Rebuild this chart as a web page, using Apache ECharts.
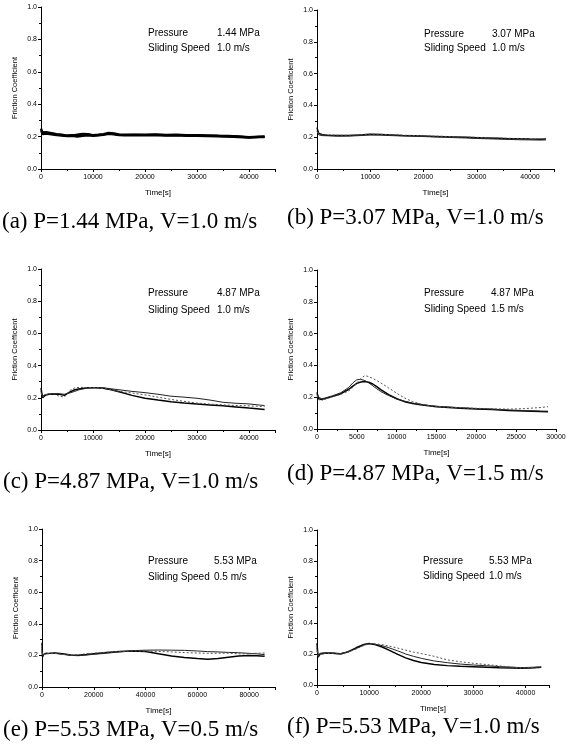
<!DOCTYPE html>
<html>
<head>
<meta charset="utf-8">
<script src="https://cdn.jsdelivr.net/npm/echarts@6/dist/echarts.min.js"></script>
<style>
html,body{margin:0;padding:0;background:#fff;}
#c{width:572px;height:751px;}
</style>
</head>
<body>
<div id="c"></div>
<script>
// ---------- tick labels ----------
var yTickLabels = ['0.0', '0.2', '0.4', '0.6', '0.8', '1.0'];
var xTicks43k = [0, 10000, 20000, 30000, 40000];
var xTicks30k = [0, 5000, 10000, 15000, 20000, 25000, 30000];
var xTicks86k = [0, 20000, 40000, 60000, 80000];

// ---------- captions / annotations ----------
var captions = ['(a) P=1.44 MPa, V=1.0 m/s', '(b) P=3.07 MPa, V=1.0 m/s',
                '(c) P=4.87 MPa, V=1.0 m/s', '(d) P=4.87 MPa, V=1.5 m/s',
                '(e) P=5.53 MPa, V=0.5 m/s', '(f) P=5.53 MPa, V=1.0 m/s'];
var pressures = ['1.44 MPa', '3.07 MPa', '4.87 MPa', '4.87 MPa', '5.53 MPa', '5.53 MPa'];
var speeds = ['1.0 m/s', '1.0 m/s', '1.0 m/s', '1.5 m/s', '0.5 m/s', '1.0 m/s'];

// ---------- panel (a) ----------
var timeA = [0, 300, 1000, 2000, 3000, 4000, 5000, 6000, 7000, 8000, 9000, 10000, 11000, 12000, 13000, 14000, 15000, 16000, 18000, 20000, 22000, 24000, 26000, 28000, 30000, 32000, 34000, 36000, 38000, 40000, 41000, 42000, 43000];
var a1 = [0.25, 0.225, 0.228, 0.222, 0.215, 0.212, 0.207, 0.209, 0.206, 0.212, 0.214, 0.21, 0.212, 0.216, 0.223, 0.22, 0.214, 0.212, 0.213, 0.212, 0.214, 0.211, 0.212, 0.21, 0.209, 0.208, 0.206, 0.205, 0.202, 0.197, 0.199, 0.2, 0.201];
var a2 = [0.24, 0.215, 0.218, 0.214, 0.209, 0.206, 0.203, 0.204, 0.2, 0.205, 0.208, 0.205, 0.207, 0.21, 0.216, 0.214, 0.209, 0.207, 0.208, 0.207, 0.209, 0.206, 0.207, 0.205, 0.204, 0.203, 0.201, 0.2, 0.197, 0.193, 0.195, 0.196, 0.197];
var a3 = [0.23, 0.22, 0.222, 0.218, 0.213, 0.209, 0.205, 0.206, 0.212, 0.217, 0.216, 0.207, 0.209, 0.213, 0.219, 0.217, 0.211, 0.21, 0.211, 0.21, 0.211, 0.209, 0.21, 0.208, 0.207, 0.205, 0.204, 0.202, 0.2, 0.195, 0.197, 0.198, 0.199];

// ---------- panel (b) ----------
var timeB = [0, 300, 1000, 2000, 4000, 6000, 8000, 10000, 12000, 14000, 16000, 18000, 20000, 22000, 24000, 26000, 28000, 30000, 32000, 34000, 36000, 38000, 40000, 42000, 43000];
var b1 = [0.26, 0.225, 0.215, 0.213, 0.21, 0.21, 0.214, 0.218, 0.217, 0.214, 0.211, 0.209, 0.207, 0.205, 0.203, 0.201, 0.199, 0.197, 0.195, 0.193, 0.191, 0.19, 0.188, 0.187, 0.188];
var b2 = [0.24, 0.215, 0.21, 0.209, 0.206, 0.207, 0.21, 0.214, 0.213, 0.21, 0.208, 0.206, 0.204, 0.202, 0.2, 0.197, 0.195, 0.192, 0.19, 0.188, 0.186, 0.184, 0.183, 0.182, 0.183];
var b3 = [0.23, 0.22, 0.218, 0.216, 0.212, 0.212, 0.216, 0.219, 0.218, 0.216, 0.213, 0.211, 0.209, 0.207, 0.205, 0.203, 0.201, 0.199, 0.197, 0.195, 0.193, 0.192, 0.19, 0.19, 0.19];

// ---------- panel (c) ----------
var timeC = [0, 300, 800, 1500, 2500, 3500, 4500, 5500, 6500, 7500, 9000, 10500, 12000, 13500, 15000, 17500, 20000, 22500, 25000, 27500, 30000, 32500, 35000, 37500, 40000, 42000, 43000];
var c1 = [0.26, 0.2, 0.215, 0.222, 0.224, 0.222, 0.215, 0.235, 0.25, 0.256, 0.262, 0.262, 0.259, 0.25, 0.237, 0.215, 0.197, 0.186, 0.176, 0.168, 0.162, 0.156, 0.15, 0.143, 0.136, 0.131, 0.128];
var c2 = [0.24, 0.21, 0.22, 0.224, 0.226, 0.225, 0.222, 0.23, 0.24, 0.252, 0.26, 0.263, 0.262, 0.256, 0.25, 0.24, 0.232, 0.222, 0.21, 0.204, 0.197, 0.186, 0.172, 0.166, 0.162, 0.155, 0.152];
var c3 = [0.23, 0.205, 0.218, 0.223, 0.225, 0.21, 0.205, 0.245, 0.262, 0.265, 0.264, 0.262, 0.258, 0.25, 0.24, 0.23, 0.218, 0.204, 0.19, 0.178, 0.167, 0.161, 0.156, 0.152, 0.15, 0.147, 0.145];

// ---------- panel (d) ----------
var timeD = [0, 200, 600, 1000, 2000, 3000, 4000, 4500, 5000, 5500, 6000, 6500, 7000, 7500, 8000, 9000, 10000, 11000, 12000, 13000, 14000, 15000, 16000, 18000, 20000, 22000, 24000, 26000, 28000, 29000];
var d1 = [0.23, 0.19, 0.185, 0.19, 0.205, 0.222, 0.25, 0.27, 0.287, 0.296, 0.298, 0.294, 0.283, 0.266, 0.248, 0.216, 0.19, 0.172, 0.16, 0.152, 0.146, 0.14, 0.137, 0.131, 0.126, 0.122, 0.117, 0.113, 0.11, 0.109];
var d2 = [0.22, 0.2, 0.19, 0.195, 0.21, 0.228, 0.262, 0.29, 0.31, 0.312, 0.305, 0.29, 0.272, 0.253, 0.236, 0.21, 0.19, 0.175, 0.163, 0.155, 0.148, 0.143, 0.14, 0.134, 0.129, 0.125, 0.12, 0.116, 0.113, 0.112];
var d3 = [0.21, 0.185, 0.18, 0.19, 0.203, 0.218, 0.24, 0.262, 0.29, 0.318, 0.335, 0.33, 0.318, 0.305, 0.29, 0.258, 0.225, 0.195, 0.172, 0.158, 0.148, 0.143, 0.139, 0.134, 0.13, 0.127, 0.125, 0.128, 0.135, 0.14];

// ---------- panel (e) ----------
var timeE = [0, 200, 600, 1500, 3000, 5000, 8000, 11000, 14000, 17000, 20000, 25000, 30000, 35000, 40000, 45000, 50000, 55000, 60000, 64000, 68000, 72000, 76000, 80000, 83000, 86000];
var e1 = [0.28, 0.19, 0.205, 0.212, 0.213, 0.215, 0.21, 0.203, 0.201, 0.205, 0.21, 0.218, 0.224, 0.228, 0.225, 0.21, 0.196, 0.186, 0.18, 0.176, 0.18, 0.188, 0.196, 0.2, 0.198, 0.195];
var e2 = [0.24, 0.2, 0.208, 0.214, 0.212, 0.213, 0.207, 0.2, 0.198, 0.202, 0.207, 0.214, 0.222, 0.23, 0.233, 0.234, 0.233, 0.232, 0.228, 0.224, 0.222, 0.219, 0.217, 0.213, 0.21, 0.205];
var e3 = [0.22, 0.2, 0.205, 0.21, 0.211, 0.212, 0.206, 0.202, 0.205, 0.21, 0.214, 0.22, 0.225, 0.228, 0.227, 0.225, 0.222, 0.218, 0.215, 0.213, 0.214, 0.214, 0.21, 0.21, 0.214, 0.215];

// ---------- panel (f) ----------
var timeF = [0, 200, 600, 1500, 3000, 4500, 6000, 7500, 9000, 10000, 11000, 12500, 14000, 15500, 17000, 18500, 20000, 22500, 25000, 27500, 30000, 32500, 35000, 37500, 39000, 41000, 43000];
var f1 = [0.27, 0.18, 0.2, 0.205, 0.205, 0.2, 0.215, 0.24, 0.262, 0.268, 0.262, 0.245, 0.222, 0.198, 0.175, 0.158, 0.145, 0.133, 0.125, 0.121, 0.118, 0.115, 0.112, 0.11, 0.108, 0.11, 0.114];
var f2 = [0.24, 0.19, 0.205, 0.208, 0.207, 0.203, 0.213, 0.235, 0.258, 0.266, 0.264, 0.254, 0.238, 0.22, 0.2, 0.185, 0.172, 0.155, 0.144, 0.135, 0.129, 0.124, 0.119, 0.115, 0.112, 0.114, 0.116];
var f3 = [0.22, 0.185, 0.198, 0.203, 0.204, 0.2, 0.212, 0.232, 0.255, 0.265, 0.266, 0.26, 0.25, 0.238, 0.225, 0.212, 0.203, 0.185, 0.162, 0.15, 0.14, 0.132, 0.123, 0.115, 0.108, 0.113, 0.118];

// ---------- layout ----------
var panels = [
  {grid: {left: 41, top: 7, width: 234, height: 162}, max: 45000, interval: 10000, ticks: xTicks43k, time: timeA, runs: [a1, a2, a3], thick: true,
   ann: {x: 148, y1: 33, y2: 48, vx: 217}, cap: {x: 2, y: 222}},
  {grid: {left: 317, top: 10, width: 237, height: 159}, max: 44500, interval: 10000, ticks: xTicks43k, time: timeB, runs: [b1, b2, b3], thick: false,
   ann: {x: 424, y1: 34, y2: 48, vx: 492}, cap: {x: 287, y: 218}},
  {grid: {left: 41, top: 269, width: 234, height: 161}, max: 45000, interval: 10000, ticks: xTicks43k, time: timeC, runs: [c1, c2, c3], thick: false,
   ann: {x: 148, y1: 293, y2: 310, vx: 217}, cap: {x: 3, y: 482}},
  {grid: {left: 317, top: 270, width: 239, height: 159}, max: 30000, interval: 5000, ticks: xTicks30k, time: timeD, runs: [d1, d2, d3], thick: false,
   ann: {x: 424, y1: 293, y2: 309, vx: 491}, cap: {x: 287, y: 474}},
  {grid: {left: 42, top: 529, width: 233, height: 158}, max: 90000, interval: 20000, ticks: xTicks86k, time: timeE, runs: [e1, e2, e3], thick: false,
   ann: {x: 148, y1: 561, y2: 577, vx: 214}, cap: {x: 3, y: 730}},
  {grid: {left: 317, top: 530, width: 232, height: 155}, max: 44500, interval: 10000, ticks: xTicks43k, time: timeF, runs: [f1, f2, f3], thick: false,
   ann: {x: 423, y1: 561, y2: 576, vx: 489}, cap: {x: 287, y: 727}}
];

var lineStyles = [
  {color: '#000', width: 1.5, type: 'solid'},
  {color: '#222', width: 1, type: 'solid'},
  {color: '#555', width: 1, type: [2, 2]}
];

var grids = [], xAxes = [], yAxes = [], series = [], graphics = [];
var axisFont = 'Liberation Sans, Arial, sans-serif';

panels.forEach(function (p, i) {
  grids.push(Object.assign({outerBoundsMode: 'none', containLabel: false}, p.grid));
  xAxes.push({
    type: 'value', gridIndex: i, min: 0, max: p.max, interval: p.interval,
    name: 'Time[s]', nameLocation: 'middle', nameGap: 20,
    nameTextStyle: {fontFamily: axisFont, fontSize: 8, color: '#000'},
    axisLine: {show: true, onZero: false, lineStyle: {color: '#000', width: 1}},
    axisTick: {show: true, inside: false, length: 3, lineStyle: {color: '#000'}},
    minorTick: {show: true, splitNumber: 2, length: 2, lineStyle: {color: '#000'}},
    splitLine: {show: false},
    axisLabel: {fontFamily: axisFont, fontSize: 7, color: '#000', margin: 5, showMaxLabel: p.max === 30000,
      formatter: (function (ticks) { return function (v) { return ticks.indexOf(v) >= 0 ? String(v) : ''; }; })(p.ticks)}
  });
  yAxes.push({
    type: 'value', gridIndex: i, min: 0, max: 1, interval: 0.2,
    name: 'Friction Coefficient', nameLocation: 'middle', nameGap: 22, nameRotate: 90,
    nameTextStyle: {fontFamily: axisFont, fontSize: 7.5, color: '#000'},
    axisLine: {show: true, lineStyle: {color: '#000', width: 1}},
    axisTick: {show: true, inside: false, length: 3, lineStyle: {color: '#000'}},
    minorTick: {show: true, splitNumber: 2, length: 2, lineStyle: {color: '#000'}},
    splitLine: {show: false},
    axisLabel: {fontFamily: axisFont, fontSize: 7, color: '#000', margin: 4,
      formatter: function (v) { var k = Math.round(v / 0.2); return yTickLabels[k] || ''; }}
  });
  p.runs.forEach(function (run, r) {
    var ls = lineStyles[r];
    series.push({
      type: 'line', xAxisIndex: i, yAxisIndex: i, symbol: 'none', silent: true, animation: false,
      data: p.time.map(function (t, k) { return [t, run[k]]; }),
      lineStyle: {color: p.thick ? '#000' : ls.color, width: p.thick ? 2.2 : ls.width, type: p.thick ? 'solid' : ls.type}
    });
  });
  var tf = '10px Liberation Sans, Arial, sans-serif';
  graphics.push({type: 'text', style: {text: 'Pressure', x: p.ann.x, y: p.ann.y1, font: tf, fill: '#000', verticalAlign: 'middle'}});
  graphics.push({type: 'text', style: {text: pressures[i], x: p.ann.vx, y: p.ann.y1, font: tf, fill: '#000', verticalAlign: 'middle'}});
  graphics.push({type: 'text', style: {text: 'Sliding Speed', x: p.ann.x, y: p.ann.y2, font: tf, fill: '#000', verticalAlign: 'middle'}});
  graphics.push({type: 'text', style: {text: speeds[i], x: p.ann.vx, y: p.ann.y2, font: tf, fill: '#000', verticalAlign: 'middle'}});
  graphics.push({type: 'text', style: {text: captions[i], x: p.cap.x, y: p.cap.y, font: '23px Liberation Serif, Times New Roman, serif', fill: '#000', verticalAlign: 'middle'}});
});

var chart = echarts.init(document.getElementById('c'), null, {renderer: 'canvas'});
chart.setOption({
  animation: false,
  backgroundColor: '#fff',
  grid: grids, xAxis: xAxes, yAxis: yAxes, series: series,
  graphic: graphics
});
</script>
</body>
</html>
